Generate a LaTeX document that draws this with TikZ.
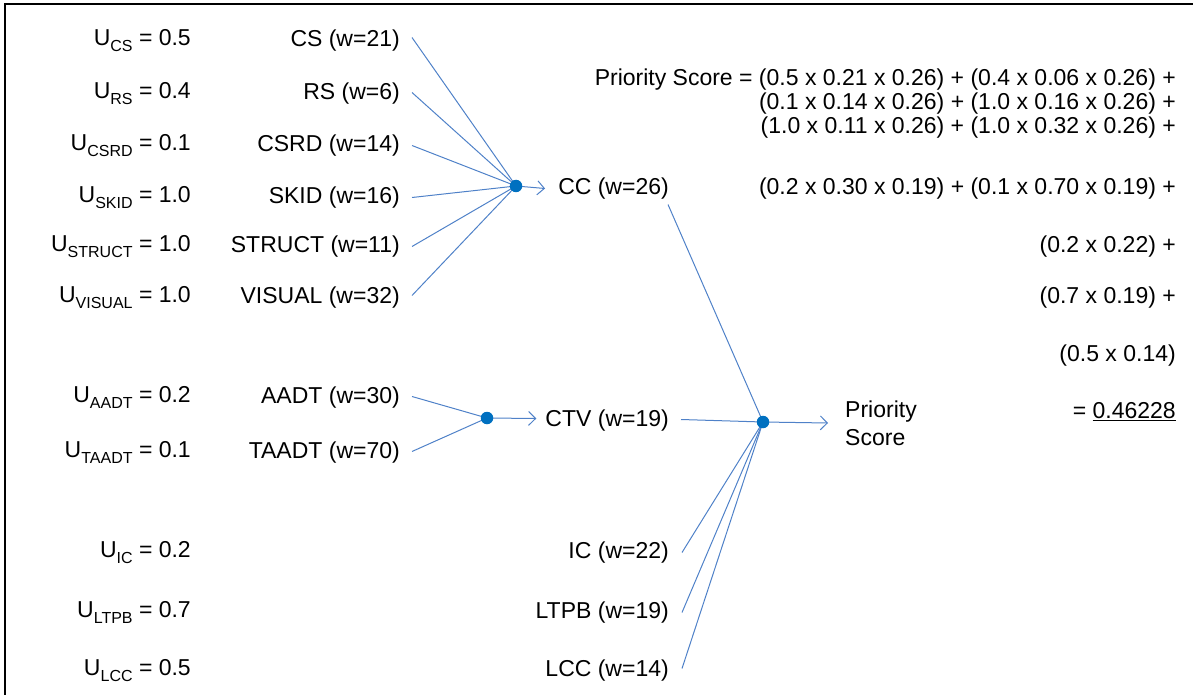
\documentclass[tikz,border=0pt]{standalone}
\usepackage{fontspec}
\setmainfont{Liberation Sans}
\usetikzlibrary{arrows.meta}
\pgfdeclarelayer{background}
\pgfsetlayers{background,main}
\definecolor{linkblue}{HTML}{4F81C8}
\definecolor{dotblue}{HTML}{0070C0}
\newcommand{\Usub}[1]{U\raisebox{-0.5ex}{\fontsize{16}{16}\selectfont #1}}
\tikzset{
  lbl/.style={inner sep=0pt, anchor=east, yshift=-2.5pt, font=\fontsize{23}{24}\selectfont},
  lbll/.style={inner sep=0pt, anchor=west, font=\fontsize{23}{24}\selectfont},
  hub/.style={circle, fill=dotblue, inner sep=0pt, minimum size=12.5pt},
  link/.style={draw=linkblue, line width=1pt},
  arr/.style={draw=linkblue, line width=1pt, -{Straight Barb[length=7pt,width=14pt,line width=1pt]}},
  frame/.style={draw=black, line width=2.5pt}
}
\begin{document}
\begin{tikzpicture}[x=1pt,y=-1pt]
\useasboundingbox (0,0) rectangle (1193,695);
\draw[frame] (5,4) rectangle (1210,710);

% utility labels
\node[lbl] (ucs) at (191,38) {\Usub{CS} = 0.5};
\node[lbl] (urs) at (191,91) {\Usub{RS} = 0.4};
\node[lbl] (ucsrd) at (191,143) {\Usub{CSRD} = 0.1};
\node[lbl] (uskid) at (191,195) {\Usub{SKID} = 1.0};
\node[lbl] (ustruct) at (191,244) {\Usub{STRUCT} = 1.0};
\node[lbl] (uvisual) at (191,295) {\Usub{VISUAL} = 1.0};
\node[lbl] (uaadt) at (191,395) {\Usub{AADT} = 0.2};
\node[lbl] (utaadt) at (191,450) {\Usub{TAADT} = 0.1};
\node[lbl] (uic) at (191,550) {\Usub{IC} = 0.2};
\node[lbl] (ultpb) at (191,610) {\Usub{LTPB} = 0.7};
\node[lbl] (ulcc) at (191,668) {\Usub{LCC} = 0.5};

% attribute labels
\node[lbl] (cs) at (400,38) {CS (w=21)};
\node[lbl] (rs) at (400,91) {RS (w=6)};
\node[lbl] (csrd) at (400,143) {CSRD (w=14)};
\node[lbl] (skid) at (400,195) {SKID (w=16)};
\node[lbl] (struct) at (400,244) {STRUCT (w=11)};
\node[lbl] (visual) at (400,295) {VISUAL (w=32)};
\node[lbl] (aadt) at (400,395) {AADT (w=30)};
\node[lbl] (taadt) at (400,450) {TAADT (w=70)};

% hubs
\node[hub] (h1) at (516,186) {};
\node[hub] (h2) at (487,418) {};
\node[hub] (h3) at (763,422) {};

% criteria
\node[lbl] (cc) at (669,186) {CC (w=26)};
\node[lbl] (ctv) at (669,418) {CTV (w=19)};
\node[lbl] (ic) at (669,550) {IC (w=22)};
\node[lbl] (ltpb) at (669,610) {LTPB (w=19)};
\node[lbl] (lcc) at (669,668) {LCC (w=14)};

\node[lbll, align=left, font=\fontsize{23}{28}\selectfont] (ps) at (845,423) {Priority\\Score};

% connectors
\begin{pgfonlayer}{background}
\foreach \n/\dy in {cs/3, rs/1, csrd/0, skid/0, struct/0, visual/2}
  \draw[link] ([xshift=12pt,yshift=\dy pt]\n.east) -- (h1.center);
\draw[link] ([xshift=12pt,yshift=1pt]aadt.east) -- (h2.center);
\draw[link] ([xshift=12pt,yshift=1pt]taadt.east) -- (h2.center);
\draw[arr] (h1.center) -- ([xshift=-13pt]cc.west);
\draw[arr] (h2.center) -- ([xshift=-9pt,yshift=2pt]ctv.west);
\draw[link] ([xshift=-1pt,yshift=-16pt]cc.east) -- (h3.center);
\draw[link] ([xshift=12pt,yshift=1pt]ctv.east) -- (h3.center);
\draw[link] ([xshift=13pt]ic.east) -- (h3.center);
\draw[link] ([xshift=13pt]ltpb.east) -- (h3.center);
\draw[link] ([xshift=13pt,yshift=2pt]lcc.east) -- (h3.center);
\draw[arr] (h3.center) -- ([xshift=-17pt]ps.west);
\end{pgfonlayer}

% formula
\node[lbl] (f1) at (1176,77) {Priority Score = (0.5 x 0.21 x 0.26) + (0.4 x 0.06 x 0.26) +};
\node[lbl] (f2) at (1176,101) {(0.1 x 0.14 x 0.26) + (1.0 x 0.16 x 0.26) +};
\node[lbl] (f3) at (1176,125) {(1.0 x 0.11 x 0.26) + (1.0 x 0.32 x 0.26) +};
\node[lbl] (f4) at (1176,186) {(0.2 x 0.30 x 0.19) + (0.1 x 0.70 x 0.19) +};
\node[lbl] (f5) at (1176,244) {(0.2 x 0.22) +};
\node[lbl] (f6) at (1176,295) {(0.7 x 0.19) +};
\node[lbl] (f7) at (1176,353) {(0.5 x 0.14)};
\node[lbl] (f8) at (1176,409) {= \underline{0.46228}};
\end{tikzpicture}
\end{document}
